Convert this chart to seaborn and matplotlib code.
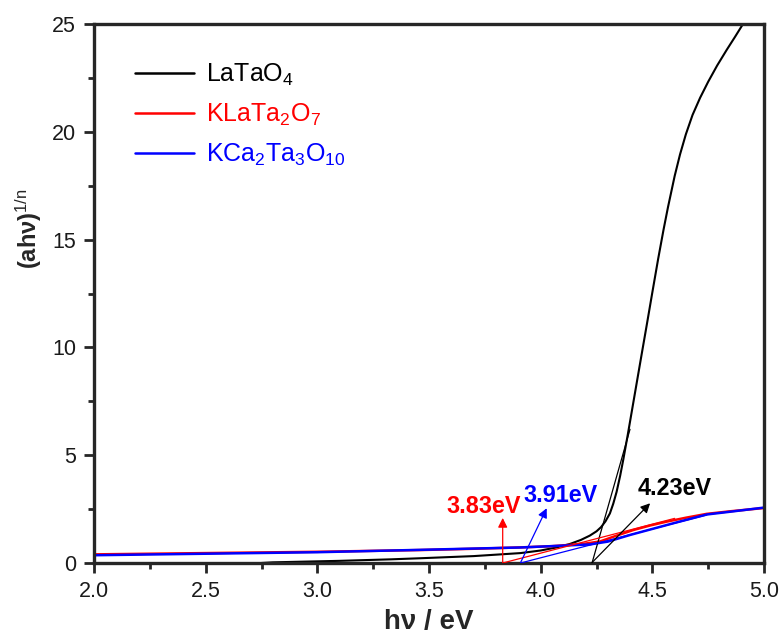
import matplotlib
matplotlib.use("Agg")
import matplotlib.pyplot as plt
from matplotlib import font_manager
from matplotlib.ticker import AutoMinorLocator, MultipleLocator, FormatStrFormatter
import pandas as pd
import seaborn as sns

# Tauc-plot data: photon energy (eV) vs (αhν)^(1/n)
latao_hv = [2.75, 2.80, 3.10, 3.33, 3.46, 3.70, 3.91, 4.00, 4.07, 4.13, 4.18, 4.22,
            4.25, 4.27, 4.29, 4.31, 4.325, 4.34, 4.356, 4.37, 4.39, 4.41, 4.43, 4.45,
            4.476, 4.50, 4.526, 4.55, 4.57, 4.60, 4.624, 4.65, 4.68, 4.714, 4.75,
            4.79, 4.833, 4.87, 4.90, 4.95]
latao_val = [0.0, 0.03, 0.10, 0.17, 0.22, 0.32, 0.46, 0.58, 0.72, 0.88, 1.07, 1.27,
             1.47, 1.66, 1.93, 2.30, 2.75, 3.30, 4.05, 4.80, 5.95, 7.15, 8.35, 9.55,
             11.1, 12.55, 14.1, 15.45, 16.5, 17.95, 18.95, 19.88, 20.78, 21.58, 22.32,
             23.07, 23.8, 24.4, 24.9, 25.7]

klata_hv = [2.0, 2.5, 3.0, 3.46, 3.70, 3.90, 4.05, 4.13, 4.20, 4.266, 4.34, 4.415,
            4.49, 4.565, 4.65, 4.744, 4.85, 5.0]
klata_val = [0.40, 0.46, 0.52, 0.60, 0.66, 0.72, 0.78, 0.84, 0.90, 1.0, 1.27, 1.53,
             1.74, 1.92, 2.10, 2.28, 2.40, 2.55]

kcata_hv = [2.0, 2.5, 3.0, 3.46, 3.70, 3.91, 4.00, 4.13, 4.22, 4.30, 4.40, 4.50,
            4.60, 4.744, 4.85, 5.0]
kcata_val = [0.36, 0.43, 0.50, 0.61, 0.67, 0.72, 0.76, 0.82, 0.86, 0.99, 1.30, 1.58,
             1.86, 2.25, 2.38, 2.57]

samples = ["LaTaO$_4$", "KLaTa$_2$O$_7$", "KCa$_2$Ta$_3$O$_{10}$"]
colors = ["#000000", "#ff0000", "#0000ff"]

# band gaps from the linear extrapolation of each absorption edge
band_gaps = [4.23, 3.83, 3.91]
gap_labels = ["4.23eV", "3.83eV", "3.91eV"]
tangent_end_hv = [4.40, 4.60, 4.744]
tangent_end_val = [6.2, 2.07, 2.23]

frames = []
for name, hv, val in [(samples[0], latao_hv, latao_val),
                      (samples[1], klata_hv, klata_val),
                      (samples[2], kcata_hv, kcata_val)]:
    frames.append(pd.DataFrame({"hv": hv, "val": val, "sample": name}))
df = pd.concat(frames, ignore_index=True)

sns.set_style("ticks")
names = {f.name for f in font_manager.fontManager.ttflist}
base = "Liberation Sans"
narrow = "Liberation Sans Narrow" if "Liberation Sans Narrow" in names else base
plt.rcParams["font.family"] = [base, "DejaVu Sans"]
plt.rcParams["mathtext.fontset"] = "custom"
plt.rcParams["mathtext.rm"] = base
plt.rcParams["mathtext.it"] = base + ":italic"
plt.rcParams["mathtext.bf"] = base + ":bold"

fig = plt.figure(figsize=(7.82, 6.39), dpi=100)
ax = fig.add_axes([94 / 782, 1 - 563 / 639, 670 / 782, 539 / 639])

palette = dict(zip(samples, colors))
sns.lineplot(data=df, x="hv", y="val", hue="sample", hue_order=samples,
             palette=palette, estimator=None, sort=True, ax=ax, linewidth=1.7)
for line, lw in zip(ax.get_lines()[:3], [1.5, 1.8, 1.8]):
    line.set_linewidth(lw)
    line.set_solid_joinstyle("round")

# tangent lines and band-gap annotations
text_pos = [(4.598, 3.46), (3.743, 2.61), (4.087, 3.15)]
arrow_tip = [(4.49, 2.77), (3.83, 2.09), (4.027, 2.54)]
for i in range(3):
    ax.plot([band_gaps[i], tangent_end_hv[i]], [0, tangent_end_val[i]],
            color=colors[i], lw=0.9, zorder=3)
    ax.annotate("", xy=arrow_tip[i], xytext=(band_gaps[i], 0.02),
                arrowprops=dict(arrowstyle="-|>", color=colors[i], lw=0.9,
                                mutation_scale=14, shrinkA=0, shrinkB=0),
                zorder=4)
    ax.text(text_pos[i][0], text_pos[i][1], gap_labels[i], color=colors[i],
            fontsize=16.8, fontweight="bold", ha="center", va="center", zorder=5)

ax.set_xlim(2.0, 5.0)
ax.set_ylim(0, 25)
ax.xaxis.set_major_locator(MultipleLocator(0.5))
ax.xaxis.set_major_formatter(FormatStrFormatter("%.1f"))
ax.yaxis.set_major_locator(MultipleLocator(5))
ax.xaxis.set_minor_locator(AutoMinorLocator(2))
ax.yaxis.set_minor_locator(AutoMinorLocator(2))
ax.tick_params(which="both", direction="out", top=False, right=False,
               labelsize=15.5, labelcolor="#1a1a1a", pad=6)
ax.tick_params(which="major", length=7, width=2.0)
ax.tick_params(which="minor", length=4, width=2.0)
for sp in ax.spines.values():
    sp.set_linewidth(2.4)
    sp.set_visible(True)

ax.set_xlabel("hν / eV", fontsize=20, fontweight="bold", family=[narrow, "DejaVu Sans"])
ax.set_ylabel(r"(ahν)$^{\mathrm{1/n}}$", fontsize=17, fontweight="bold",
              family=[narrow, "DejaVu Sans"])
ax.xaxis.set_label_coords(0.5, -0.085)
ax.yaxis.set_label_coords(-0.075, 0.62)

leg = ax.legend(loc="upper left", bbox_to_anchor=(0.061, 0.93), frameon=False,
                fontsize=18, handlelength=2.35, handletextpad=0.5,
                labelspacing=0.55, borderpad=0, borderaxespad=0,
                labelcolor="linecolor")
for h in leg.get_lines():
    h.set_linewidth(1.8)

fig.savefig("out.png", dpi=100)
